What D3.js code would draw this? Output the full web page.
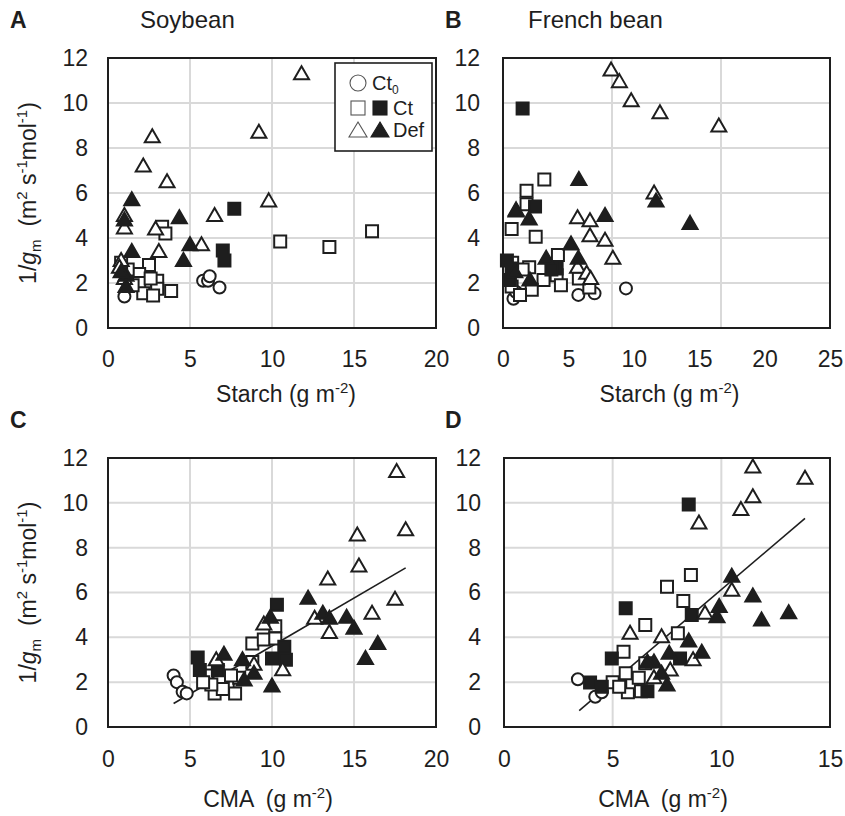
<!DOCTYPE html>
<html>
<head>
<meta charset="utf-8">
<script src="https://cdn.jsdelivr.net/npm/d3@7"></script>
<style>
  body { margin: 0; background: #fff; }
  svg { font-family: "Liberation Sans", Arial, sans-serif; }
  text { white-space: pre; }
</style>
</head>
<body>
<svg id="chart" width="845" height="816"></svg>
<script>
// ---- data: [x, 1/gm] ----
// A: soybean, starch
var aCt0 = [[1.0,1.4],[5.8,2.1],[6.1,2.1],[6.2,2.3],[6.8,1.8]];
var aCtOpen = [[3.3,4.5],[3.5,4.2],[10.5,3.85],[13.5,3.6],[16.1,4.3],[2.5,2.8],[1.9,2.4],[1.9,2.0],[3.0,2.1],
  [3.0,1.75],[3.85,1.65],[2.15,1.55],[2.75,1.45],[1.2,2.6],[0.8,2.9],[2.6,2.2],[1.5,1.9]];
var aCtFill = [[7.7,5.3],[7.0,3.45],[7.1,3.0]];
var aDefOpen = [[11.8,11.3],[2.7,8.5],[9.2,8.7],[2.15,7.2],[3.6,6.5],[9.8,5.65],[6.5,5.0],[1.0,5.0],[1.0,4.45],
  [2.9,4.4],[5.7,3.7],[3.1,3.4],[0.8,3.0],[0.7,2.7],[1.0,2.2]];
var aDefFill = [[1.45,5.7],[1.0,4.8],[4.35,4.9],[5.0,3.7],[4.6,3.0],[1.45,3.4],[1.1,2.35],[1.1,1.85],[0.8,2.5]];

// B: french bean, starch
var bCt0 = [[0.8,1.3],[5.76,1.47],[7.0,1.54],[9.4,1.76],[1.0,1.6]];
var bCtOpen = [[3.16,6.6],[1.8,6.1],[1.8,5.5],[0.66,4.4],[2.5,4.06],[4.2,3.25],[2.0,2.7],[4.1,2.35],[3.1,2.13],
  [4.43,1.9],[2.2,1.7],[0.66,1.84],[1.3,1.47],[6.6,1.8],[1.5,2.6],[0.7,2.9],[5.8,2.2]];
var bCtFill = [[1.5,9.76],[2.45,5.4],[0.3,3.0],[0.66,2.65],[4.1,2.65],[0.53,2.13],[3.7,2.6]];
var bDefOpen = [[8.26,11.47],[8.9,10.95],[9.8,10.1],[12.0,9.57],[16.5,8.98],[11.55,6.0],[1.0,5.25],[5.7,4.9],
  [6.65,4.77],[6.65,4.1],[7.8,3.9],[8.4,3.1],[5.7,2.7],[6.4,2.43],[6.7,2.2]];
var bDefFill = [[5.8,6.6],[1.0,5.2],[2.0,4.85],[7.8,5.0],[5.2,3.73],[3.3,3.1],[5.76,3.1],[2.06,2.13],[11.7,5.64],
  [14.3,4.65],[0.9,2.5]];

// C: soybean, CMA
var cCt0 = [[4.0,2.3],[4.2,2.0],[4.55,1.57],[4.8,1.5]];
var cCtOpen = [[6.0,2.3],[6.5,1.5],[7.3,1.95],[7.75,1.5],[6.8,2.0],[7.0,1.7],[6.3,1.9],[8.0,2.2],[8.8,3.73],
  [9.5,3.9],[10.2,4.5],[10.2,3.95],[8.8,2.9],[7.5,2.3],[5.8,2.0]];
var cCtFill = [[5.47,3.1],[5.6,2.54],[6.7,2.54],[10.3,5.45],[10.0,3.06],[10.75,3.58],[10.85,3.0]];
var cDefOpen = [[17.6,11.4],[18.15,8.8],[15.2,8.56],[15.3,7.18],[13.4,6.6],[17.5,5.7],[16.1,5.07],[12.6,4.85],
  [13.5,4.22],[9.5,4.6],[10.65,2.55],[6.6,3.0],[8.9,2.8]];
var cDefFill = [[7.07,3.25],[8.2,3.0],[9.9,4.9],[8.9,2.4],[10.0,1.83],[8.3,2.1],[12.2,5.74],[13.1,5.07],[13.5,4.85],
  [14.55,4.9],[15.0,4.4],[16.45,3.73],[15.7,3.06]];
var cFit = [0.4276, -0.66];   // slope, intercept
var cFitX = [4.0, 18.15];

// D: french bean, CMA
var dCt0 = [[3.4,2.13],[4.2,1.35],[4.5,1.55]];
var dCtOpen = [[7.5,6.26],[6.5,4.55],[5.5,3.36],[6.5,2.84],[5.7,1.55],[8.6,6.78],[8.25,5.62],[8.0,4.18],[5.0,2.0],
  [5.3,1.8],[5.9,2.0],[6.2,2.2],[5.6,2.4],[6.3,1.6]];
var dCtFill = [[8.5,9.93],[5.6,5.3],[4.96,3.06],[3.96,1.98],[4.5,1.8],[6.6,1.6],[8.64,5.0],[8.1,3.06]];
var dDefOpen = [[11.45,11.6],[13.85,11.1],[11.45,10.27],[10.9,9.7],[8.97,9.1],[10.48,6.1],[9.25,5.07],[5.8,4.18],
  [7.25,4.03],[8.7,3.0],[7.65,2.54],[6.9,2.2]];
var dDefFill = [[10.48,6.73],[11.45,5.84],[9.9,5.37],[9.8,4.92],[11.85,4.77],[13.1,5.1],[8.5,3.84],[9.1,3.33],
  [7.6,3.29],[7.25,2.4],[7.5,1.87],[6.9,2.9],[6.6,2.9]];
var dFit = [0.825, -2.12];
var dFitX = [3.46, 13.85];

var yTicks = [0,2,4,6,8,10,12];
var yGrid = [2,4,6,8,10];
var xTicksA = [0,5,10,15,20], xGridA = [5,10,15];
var xTicksB = [0,5,10,15,20,25], xGridB = [25/3, 50/3];
var xTicksC = [0,5,10,15,20], xGridC = [5,10,15];
var xTicksD = [0,5,10,15], xGridD = [5,10];

var ink = "#1e1e1e";
var svg = d3.select("#chart");

var sqPath = "M-6,-6h12v12h-12z";
var triPath = "M0,-7.5L7.5,5.5L-7.5,5.5Z";

function drawPanel(p) {
  var x = d3.scaleLinear().domain([0, p.xMax]).range([p.left, p.left + p.w]);
  var y = d3.scaleLinear().domain([0, 12]).range([p.top + p.h, p.top]);
  var g = svg.append("g");

  // gridlines
  g.selectAll(null).data(p.xGrid).enter().append("line")
    .attr("x1", d => x(d)).attr("x2", d => x(d))
    .attr("y1", p.top).attr("y2", p.top + p.h)
    .attr("stroke", "#d9d9d9").attr("stroke-width", 2);
  g.selectAll(null).data(yGrid).enter().append("line")
    .attr("x1", p.left).attr("x2", p.left + p.w)
    .attr("y1", d => y(d)).attr("y2", d => y(d))
    .attr("stroke", "#d9d9d9").attr("stroke-width", 2);

  // tick labels
  var xa = g.append("g").attr("transform", "translate(0," + (p.top + p.h) + ")")
    .call(d3.axisBottom(x).tickValues(p.xTicks).tickSize(0).tickPadding(p.xPad).tickFormat(d3.format("d")));
  var ya = g.append("g").attr("transform", "translate(" + p.left + ",0)")
    .call(d3.axisLeft(y).tickValues(yTicks).tickSize(0).tickPadding(p.yPad));
  [xa, ya].forEach(function(a) {
    a.select(".domain").remove();
    a.selectAll("text").attr("font-size", 23).attr("fill", ink).attr("font-family", null);
  });

  // frame
  g.append("rect").attr("x", p.left).attr("y", p.top).attr("width", p.w).attr("height", p.h)
    .attr("fill", "none").attr("stroke", ink).attr("stroke-width", 2);

  // regression line
  if (p.fit) {
    g.append("line")
      .attr("x1", x(p.fitX[0])).attr("y1", y(p.fit[0] * p.fitX[0] + p.fit[1]))
      .attr("x2", x(p.fitX[1])).attr("y2", y(p.fit[0] * p.fitX[1] + p.fit[1]))
      .attr("stroke", ink).attr("stroke-width", 1.6);
  }

  // markers
  g.selectAll(null).data(p.ct0).enter().append("circle")
    .attr("cx", d => x(d[0])).attr("cy", d => y(d[1])).attr("r", 6)
    .attr("fill", "#fff").attr("stroke", ink).attr("stroke-width", 2);
  var series = [
    [p.ctOpen, sqPath, "#fff"], [p.ctFill, sqPath, ink],
    [p.defOpen, triPath, "#fff"], [p.defFill, triPath, ink]
  ];
  series.forEach(function(s) {
    g.selectAll(null).data(s[0]).enter().append("path")
      .attr("d", s[1])
      .attr("transform", d => "translate(" + x(d[0]) + "," + y(d[1]) + ")")
      .attr("fill", s[2]).attr("stroke", ink).attr("stroke-width", 2)
      .attr("stroke-linejoin", "miter");
  });

  // panel letter + title
  svg.append("text").attr("x", p.letterX).attr("y", p.top - 30)
    .attr("font-size", 23).attr("font-weight", "bold").attr("fill", ink).text(p.letter);
  if (p.title) {
    svg.append("text").attr("x", p.titleX).attr("y", p.top - 30)
      .attr("font-size", 24).attr("fill", ink).text(p.title);
  }

  // x title
  var xt = svg.append("text").attr("x", p.left + p.w / 2 + p.xtOff).attr("y", p.top + p.h + p.xtPad)
    .attr("text-anchor", "middle").attr("font-size", 23).attr("fill", ink);
  xt.append("tspan").text(p.xTitle + " (g m");
  xt.append("tspan").attr("font-size", 15).attr("dy", -9).text("-2");
  xt.append("tspan").attr("dy", 9).text(")");

  // y title on left panels
  if (p.yTitle) {
    var yt = svg.append("text")
      .attr("transform", "translate(36," + (p.top + p.h / 2) + ") rotate(-90)")
      .attr("text-anchor", "middle").attr("font-size", 23).attr("fill", ink);
    yt.append("tspan").text("1/");
    yt.append("tspan").attr("font-style", "italic").text("g");
    yt.append("tspan").attr("font-size", 15).attr("dy", 5).text("m");
    yt.append("tspan").attr("dy", -5).text("  (m");
    yt.append("tspan").attr("font-size", 15).attr("dy", -9).text("2");
    yt.append("tspan").attr("dy", 9).text(" s");
    yt.append("tspan").attr("font-size", 15).attr("dy", -9).text("-1");
    yt.append("tspan").attr("dy", 9).text("mol");
    yt.append("tspan").attr("font-size", 15).attr("dy", -9).text("-1");
    yt.append("tspan").attr("dy", 9).text(")");
  }
  return { x: x, y: y };
}

drawPanel({ letter: "A", letterX: 10, title: "Soybean", titleX: 140, left: 108, top: 58, w: 328, h: 270, xMax: 20,
  xTicks: xTicksA, xGrid: xGridA, xPad: 23, yPad: 20, xTitle: "Starch", xtPad: 74, xtOff: 14, yTitle: true,
  ct0: aCt0, ctOpen: aCtOpen, ctFill: aCtFill, defOpen: aDefOpen, defFill: aDefFill });
drawPanel({ letter: "B", letterX: 445, title: "French bean", titleX: 528, left: 503, top: 58, w: 327, h: 270, xMax: 25,
  xTicks: xTicksB, xGrid: xGridB, xPad: 23, yPad: 23, xTitle: "Starch", xtPad: 74, xtOff: 3, yTitle: false,
  ct0: bCt0, ctOpen: bCtOpen, ctFill: bCtFill, defOpen: bDefOpen, defFill: bDefFill });
drawPanel({ letter: "C", letterX: 10, title: null, left: 108, top: 458, w: 328, h: 269, xMax: 20,
  xTicks: xTicksC, xGrid: xGridC, xPad: 24, yPad: 20, xTitle: "CMA ", xtPad: 80, xtOff: -4, yTitle: true,
  fit: cFit, fitX: cFitX,
  ct0: cCt0, ctOpen: cCtOpen, ctFill: cCtFill, defOpen: cDefOpen, defFill: cDefFill });
drawPanel({ letter: "D", letterX: 445, title: null, left: 504, top: 458, w: 326, h: 269, xMax: 15,
  xTicks: xTicksD, xGrid: xGridD, xPad: 24, yPad: 23, xTitle: "CMA ", xtPad: 80, xtOff: -4, yTitle: false,
  fit: dFit, fitX: dFitX,
  ct0: dCt0, ctOpen: dCtOpen, ctFill: dCtFill, defOpen: dDefOpen, defFill: dDefFill });

// legend in panel A
var lg = svg.append("g");
lg.append("rect").attr("x", 335).attr("y", 63).attr("width", 97).attr("height", 88)
  .attr("fill", "#fff").attr("stroke", ink).attr("stroke-width", 1.6);
var legendRows = [
  { y: 83, shapes: [["c", "#fff"]], label: "Ct", sub: "0" },
  { y: 108, shapes: [["s", "#fff"], ["s", ink]], label: "Ct" },
  { y: 130, shapes: [["t", "#fff"], ["t", ink]], label: "Def" }
];
legendRows.forEach(function(r) {
  r.shapes.forEach(function(s, i) {
    var cx = 358 + i * 22;
    if (s[0] === "c") {
      lg.append("circle").attr("cx", cx).attr("cy", r.y).attr("r", 8)
        .attr("fill", s[1]).attr("stroke", "#555").attr("stroke-width", 1.1);
    } else if (s[0] === "s") {
      lg.append("rect").attr("x", cx - 7).attr("y", r.y - 7).attr("width", 14).attr("height", 14)
        .attr("fill", s[1]).attr("stroke", s[1] === ink ? ink : "#555").attr("stroke-width", 1.1);
    } else {
      lg.append("path").attr("d", "M0,-8L9,7L-9,7Z").attr("transform", "translate(" + cx + "," + r.y + ")")
        .attr("fill", s[1]).attr("stroke", s[1] === ink ? ink : "#555").attr("stroke-width", 1.1);
    }
  });
  var tx = r.shapes.length === 1 ? 372 : 393;
  var t = lg.append("text").attr("x", tx).attr("y", r.y + 7).attr("font-size", 20).attr("fill", ink).text(r.label);
  if (r.sub) t.append("tspan").attr("font-size", 12).attr("dy", 4).text(r.sub);
});
</script>
</body>
</html>
